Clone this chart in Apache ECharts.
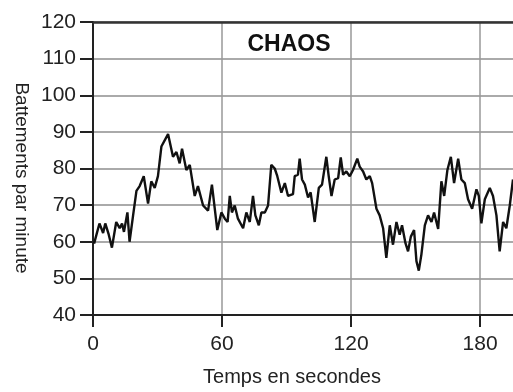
<!DOCTYPE html>
<html><head><meta charset="utf-8">
<script src="https://cdn.jsdelivr.net/npm/echarts@6/dist/echarts.min.js"></script>
<style>html,body{margin:0;padding:0;background:#fff}#c{width:513px;height:392px}</style>
</head><body><div id="c"></div>
<script>
var times = [0.5,3,4.7,5.7,7.3,8.8,10.8,12.4,13.5,14.4,16,17,18.6,20.2,21.7,23.6,25.6,27.1,28.7,30.2,31.8,34.9,37.2,38.8,40.3,41.4,43.4,45,47.3,48.8,51.2,53.5,55.3,57.8,59.7,61.3,62.6,63.6,64.6,65.9,67.4,69.8,71.3,72.9,74.4,75.5,77.1,78.3,79.9,81.4,82.9,84.5,85.7,87.6,89.2,90.7,93,93.8,95.3,96.1,97.2,98.5,100,101.2,103.1,105,106.5,108.5,109.6,110.9,112.4,114,115.2,116.3,117.8,119.4,120.9,122.9,124,125.6,127.1,128.7,129.8,131.8,133.3,134.9,136.4,138,139.5,141.1,142.6,143.7,145.3,146.5,147.8,149.3,150.4,151.5,152.7,154.3,155.8,157.4,158.6,160.5,162,163.3,164.8,166.4,167.9,169.8,171.3,172.9,174.4,176.3,178.3,179.4,180.6,182.2,184.5,186,187.6,189.1,190.7,192.2,193.8,195.3];
var beats = [59.5,65,62.4,65,62,58.4,65.4,63.7,65,62.7,68,60,67,73.9,75.2,77.9,70.4,76.5,74.7,77.9,86,89.4,83.2,84.5,81.4,85.4,79.6,81,72.5,75.2,69.9,68.5,75.6,63.2,68,66.3,65.4,72.5,68,69.9,66.3,63.7,68,65.4,72.5,67.2,64.5,68,68,69.9,81,80,77.9,73.4,76,72.5,73,77.9,78.3,82.7,77,75.6,72.1,73.5,65.4,74.7,75.6,83.2,77.9,72.5,77,77.4,83,78.3,79.2,77.9,79.6,82.7,80.5,79.2,77,77.9,76,69,67.2,63.7,55.6,64.5,59.2,65.4,61.9,64.5,59.6,57.4,61.4,63.2,54.7,52.1,56.5,64.5,67.2,65.4,68,63.5,76.5,72.5,79.6,83.2,76,82.7,77,76,71.6,69,74.3,72.5,65,71.6,74.7,72.5,67.2,57.4,65.4,63.7,69.9,77];
var xTicks = [0, 60, 120, 180];
var yMin = 40, yMax = 120, yStep = 10;
var title = 'CHAOS';
var xName = 'Temps en secondes';
var yName = 'Battements par minute';

var data = times.map(function(t, i){ return [t, beats[i]]; });
var font = 'Liberation Sans, Arial, sans-serif';
var chart = echarts.init(document.getElementById('c'));
chart.setOption({
  animation: false,
  backgroundColor: '#fff',
  grid: {left: 93, top: 22, right: 0, bottom: 70},
  xAxis: [{
    type: 'value', min: 0, max: 195.3, interval: 60,
    axisLine: {show: true, lineStyle: {color: '#222', width: 2}},
    axisTick: {show: true, length: 12, lineStyle: {color: '#222', width: 2},
      customValues: xTicks},
    axisLabel: {margin: 19, fontSize: 21, color: '#222', fontFamily: font,
      customValues: xTicks, formatter: function(v){ return xTicks.indexOf(v) >= 0 ? String(v) : ''; }},
    splitLine: {show: true, lineStyle: {color: '#999', width: 1.5}},
    name: xName, nameLocation: 'middle', nameGap: 52,
    nameTextStyle: {fontSize: 20, color: '#222', fontFamily: font, padding: [0, 22, 0, 0]}
  }, {
    type: 'value', position: 'top', min: 0, max: 195.3,
    axisLine: {show: true, onZero: false, lineStyle: {color: '#333', width: 2.5}},
    axisTick: {show: false}, axisLabel: {show: false}, splitLine: {show: false}
  }],
  yAxis: {
    type: 'value', min: yMin, max: yMax, interval: yStep,
    axisLine: {show: true, lineStyle: {color: '#222', width: 2}},
    axisTick: {show: true, length: 13, lineStyle: {color: '#222', width: 2}},
    axisLabel: {margin: 17, fontSize: 21, color: '#222', fontFamily: font},
    splitLine: {show: true, lineStyle: {color: '#aaa', width: 2}}
  },
  graphic: [
    {type: 'text', x: 21, y: 178, rotation: -Math.PI/2,
      style: {text: yName, fontSize: 19, fill: '#222', fontFamily: font, align: 'center', verticalAlign: 'middle'}},
    {type: 'text', x: 289, y: 45,
      style: {text: title, fontSize: 23, fontWeight: 'bold', fill: '#111', fontFamily: font, align: 'center', verticalAlign: 'middle'}}
  ],
  series: [{
    type: 'line', xAxisIndex: 0, data: data, showSymbol: false,
    lineStyle: {color: '#111', width: 2.4}
  }]
});
</script></body></html>
